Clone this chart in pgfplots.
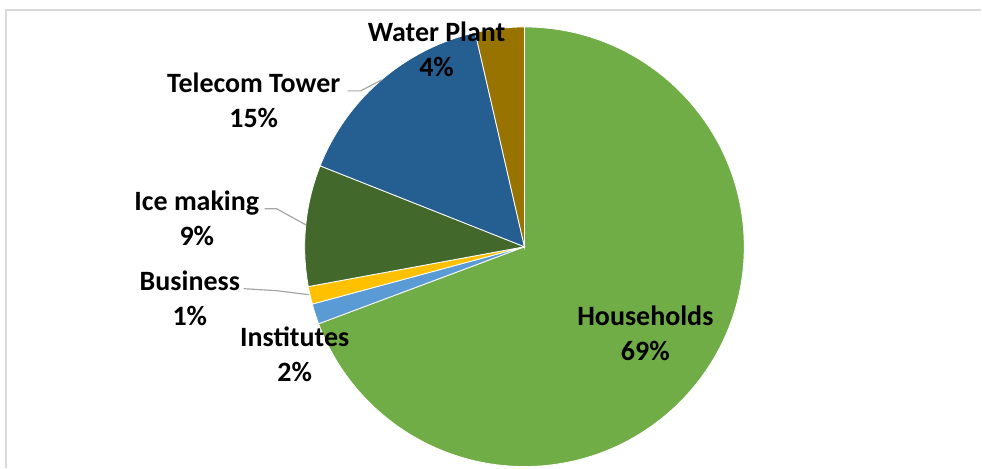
\documentclass[border=0pt]{standalone}
\usepackage{pgfplots}
\pgfplotsset{compat=1.18}
\usepackage{pgfplotstable}
\usepackage{fontspec}
\setmainfont{Carlito}
\definecolor{hh}{HTML}{70AD47}
\definecolor{inst}{HTML}{5B9BD5}
\definecolor{bus}{HTML}{FFC000}
\definecolor{ice}{HTML}{43682B}
\definecolor{tel}{HTML}{255E91}
\definecolor{wat}{HTML}{997300}
\definecolor{frame}{HTML}{D9D9D9}
\definecolor{leader}{HTML}{A6A6A6}
\pgfplotstableread{
label value
Households 69.3
Institutes 1.5
Business 1.3
Icemaking 8.9
TelecomTower 15.4
WaterPlant 3.6
}\piedata
\def\slicecolor#1{\ifcase#1 hh\or inst\or bus\or ice\or tel\or wat\fi}
\begin{document}
\begin{tikzpicture}
\begin{axis}[
  scale only axis, width=491pt, height=234pt,
  xmin=0, xmax=982, ymin=0, ymax=468,
  hide axis, clip=false,
]
\path (axis cs:0,0) rectangle (axis cs:982,468);
\draw[frame, line width=1pt] (axis cs:6.5,0) -- (axis cs:6.5,457.5) -- (axis cs:982,457.5);
\gdef\cum{0}
\pgfplotsforeachungrouped \i in {0,...,5}{%
  \pgfplotstablegetelem{\i}{value}\of\piedata
  \let\v=\pgfplotsretval
  \pgfmathsetmacro\sa{90-3.6*\cum}%
  \pgfmathsetmacro\ea{90-3.6*(\cum+\v)}%
  \pgfmathsetmacro\newcum{\cum+\v}%
  \xdef\cum{\newcum}%
  \edef\temp{\noexpand\fill[\slicecolor{\i}, draw=white, line width=0.4pt]
    (axis cs:525,221) -- ++(\sa:110pt) arc[start angle=\sa, end angle=\ea, radius=110pt] -- cycle;}%
  \temp
}
% leader lines
\draw[leader, line width=0.6pt] (axis cs:348,377) -- (axis cs:361,377) -- (axis cs:382,388);
\draw[leader, line width=0.6pt] (axis cs:265,259) -- (axis cs:277,259) -- (axis cs:306,243);
\draw[leader, line width=0.6pt] (axis cs:244,179) -- (axis cs:277,177) -- (axis cs:309,173);
% labels
\tikzset{lab/.style={align=center, font=\fontsize{14}{17.5}\selectfont\bfseries, text=black, inner sep=0pt}}
\node[lab] at (axis cs:437,418.5) {Water Plant\\4\%};
\node[lab] at (axis cs:254,368) {Telecom Tower\\15\%};
\node[lab] at (axis cs:197,249) {Ice making\\9\%};
\node[lab] at (axis cs:190,169.5) {Business\\1\%};
\node[lab] at (axis cs:295,113.5) {Institutes\\2\%};
\node[lab] at (axis cs:646,134.5) {Households\\69\%};
\end{axis}
\end{tikzpicture}
\end{document}
